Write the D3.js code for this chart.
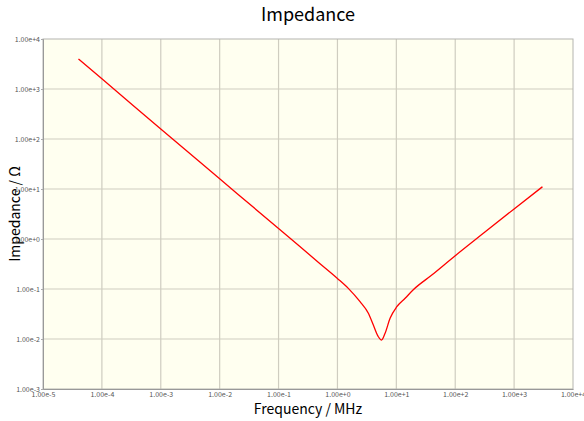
<!DOCTYPE html>
<html>
<head>
<meta charset="utf-8">
<script src="https://cdn.jsdelivr.net/npm/d3@7"></script>
<style>
  body { margin: 0; background: #fff; }
  svg text { font-family: "Noto Sans CJK JP", "DejaVu Sans", sans-serif; }
</style>
</head>
<body>
<div id="chart"></div>
<script>
// impedance curve: frequency (MHz), impedance (ohm)
const freq = [4.0e-5, 1e-4, 1e-3, 1e-2, 1e-1, 0.5, 1.0, 1.53, 2.42, 3.35, 4.07, 4.95, 5.6,
              6.44, 7.83, 10.2, 14.1, 19.2, 40, 100, 300, 1000, 3030];
const imp = [3980, 1600, 158, 16.0, 1.62, 0.325, 0.163, 0.103, 0.0557, 0.0327, 0.019, 0.0111, 0.0095,
             0.013, 0.026, 0.0443, 0.0652, 0.0955, 0.19, 0.463, 1.3, 4.0, 11.1];

const xTicks = [1e-5, 1e-4, 1e-3, 1e-2, 1e-1, 1e0, 1e1, 1e2, 1e3, 1e4];
const yTicks = [1e-3, 1e-2, 1e-1, 1e0, 1e1, 1e2, 1e3, 1e4];

const width = 584, height = 421;
const margin = {top: 39, right: 11, bottom: 32, left: 43};
const w = width - margin.left - margin.right, h = height - margin.top - margin.bottom;

const svg = d3.select("#chart").append("svg")
    .attr("width", width)
    .attr("height", height);

const g = svg.append("g")
    .attr("transform", `translate(${margin.left},${margin.top})`);

const x = d3.scaleLog().domain([1e-5, 1e4]).range([0, w]);
const y = d3.scaleLog().domain([1e-3, 1e4]).range([h, 0]);

function fmt(v) {
  let e = Math.round(Math.log10(v));
  return "1.00e" + (e >= 0 ? "+" : "-") + Math.abs(e);
}

g.append("rect")
    .attr("width", w)
    .attr("height", h)
    .attr("fill", "#fffff0");

// grid
g.append("g").selectAll("line").data(xTicks.slice(1, -1)).enter().append("line")
    .attr("x1", d => x(d)).attr("x2", d => x(d))
    .attr("y1", 0).attr("y2", h)
    .attr("stroke", "#cfcdc0").attr("stroke-width", 1.2);
g.append("g").selectAll("line").data(yTicks.slice(1, -1)).enter().append("line")
    .attr("y1", d => y(d)).attr("y2", d => y(d))
    .attr("x1", 0).attr("x2", w)
    .attr("stroke", "#cfcdc0").attr("stroke-width", 1.2);

// frame
g.append("rect")
    .attr("width", w)
    .attr("height", h)
    .attr("fill", "none")
    .attr("stroke", "#b4b4b0");

// axes
g.append("g")
    .attr("transform", `translate(0,${h})`)
    .call(d3.axisBottom(x).tickValues(xTicks).tickFormat(fmt).tickSize(0).tickPadding(3))
    .call(a => a.select(".domain").attr("stroke", "#999"))
    .selectAll("text").attr("font-size", 7).attr("fill", "#555");

g.append("g")
    .call(d3.axisLeft(y).tickValues(yTicks).tickFormat(fmt).tickSize(2).tickPadding(1))
    .call(a => a.select(".domain").attr("stroke", "#999"))
    .call(a => a.selectAll(".tick line").attr("stroke", "#aaa"))
    .selectAll("text").attr("font-size", 7).attr("fill", "#555");

// curve
const pts = freq.map((f, i) => [f, imp[i]]);
g.append("path")
    .datum(pts)
    .attr("fill", "none")
    .attr("stroke", "#ff0000")
    .attr("stroke-width", 1.3)
    .attr("d", d3.line().x(d => x(d[0])).y(d => y(d[1])).curve(d3.curveMonotoneX));

// titles
svg.append("text")
    .attr("x", margin.left + w / 2)
    .attr("y", 21)
    .attr("text-anchor", "middle")
    .attr("font-size", 18)
    .text("Impedance");

svg.append("text")
    .attr("x", margin.left + w / 2)
    .attr("y", 414)
    .attr("text-anchor", "middle")
    .attr("font-size", 14)
    .text("Frequency / MHz");

svg.append("text")
    .attr("transform", `translate(20,${margin.top + h / 2}) rotate(-90)`)
    .attr("text-anchor", "middle")
    .attr("font-size", 14)
    .text("Impedance / Ω");
</script>
</body>
</html>
